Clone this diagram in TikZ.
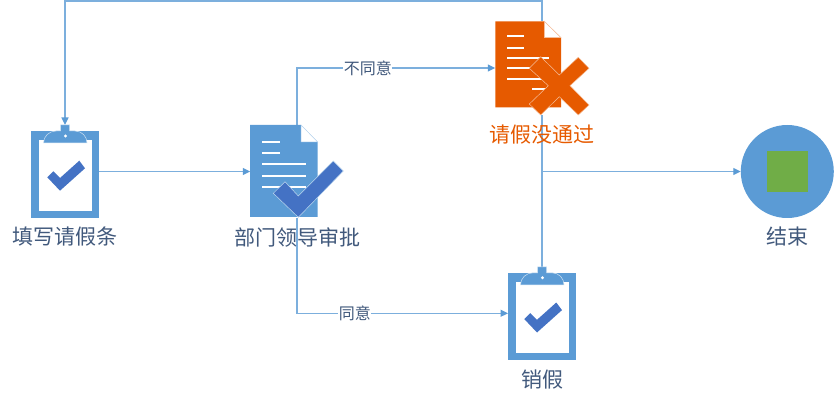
\documentclass[tikz,border=0pt]{standalone}
\usepackage{fontspec}
\setmainfont{Noto Sans CJK SC}
\usetikzlibrary{arrows.meta}
\definecolor{flowblue}{HTML}{5B9BD5}
\definecolor{checkblue}{HTML}{4472C4}
\definecolor{labelgrey}{HTML}{41597C}
\definecolor{alertorange}{HTML}{E65A00}
\definecolor{stopgreen}{HTML}{70AD47}
\tikzset{
  x=1pt,y=-1pt,
  anchorbox/.style={inner sep=0pt,outer sep=0pt,minimum width=#1},
  flow/.style={draw=flowblue!80!white,line width=1.3pt},
  flowarrow/.style={flow,-{Triangle[length=7.5pt,width=7pt,color=flowblue]}},
  iconlabel/.style={font=\fontsize{21}{25}\selectfont,text=labelgrey,inner sep=0pt},
  edgelabel/.style={font=\fontsize{16}{18}\selectfont,text=labelgrey,fill=white,inner sep=0.5pt},
  clipboard/.pic={
    \fill[flowblue] (-34,-40.5) rectangle (34,46.5);
    \fill[white] (-26,-31.5) rectangle (27,39.5);
    \draw[fill=flowblue,draw=white!70!flowblue,line width=0.5pt] (-21.5,-28.5) .. controls (-21.5,-35) and (-16,-40.5) .. (-9,-40.5) -- (-4.5,-40.5) -- (-4.5,-46.5) -- (4.5,-46.5) -- (4.5,-40.5) -- (10,-40.5) .. controls (17,-40.5) and (22,-35) .. (22,-28.5) -- cycle;
    \fill[white] (0.5,-35.5) circle (1.6);
    \fill[checkblue] (-17.7,5.8) -- (-5,19.2) -- (20,-3.2) -- (14.3,-10.8) -- (-5,6.5) -- (-11.7,-0.2) -- cycle;
  }
}
\begin{document}
\begin{tikzpicture}
\useasboundingbox (0,0) rectangle (836,401);
% anchor boxes
\node[anchorbox=68pt,minimum height=93pt] (clipA) at (65,171.5) {};
\node[anchorbox=93.5pt,minimum height=93pt] (docA) at (297,171.5) {};
\node[anchorbox=93.5pt,minimum height=94pt] (docB) at (542,68) {};
\node[anchorbox=68pt,minimum height=93pt] (clipC) at (542,313.3) {};
\node[circle,fill=flowblue,inner sep=0pt,outer sep=0pt,minimum size=93pt] (stopN) at (787.3,171.5) {};
\coordinate (topBend) at (542,1);
\coordinate (branch) at (542,171.5);
% connectors
\draw[flowarrow] (clipA.east) -- (docA.west);
\draw[flowarrow] (docA.north) |- node[edgelabel,pos=0.679] (lNo) {不同意} (docB.west);
\draw[flowarrow] (docA.south) |- node[edgelabel,pos=0.637] (lYes) {同意} (clipC.west);
\draw[flowarrow] (docB.north) -- (topBend) -| (clipA.north);
\draw[flow] (docB.south) -- (clipC.north);
\draw[flowarrow] (branch) -- (stopN.west);
% clipboards
\pic at (clipA.center) {clipboard};
\pic at (clipC.center) {clipboard};
% first document
\fill[flowblue] (250,125) -- (301,125) -- (317.7,142) -- (317.7,217) -- (250,217) -- cycle;
\draw[fill=white,draw=white!60!flowblue,line width=0.5pt] (301,125) -- (317.7,142) -- (301,142) -- cycle;
\foreach \yy/\xe in {142.3/280,153.3/280,164.3/306,176/306,187.3/306}
  \fill[white] (262,\yy-1) rectangle (\xe,\yy+1);
\draw[fill=checkblue,draw=white!60!flowblue,line width=0.5pt] (273.3,193.3) -- (285,181.7) -- (298.3,196) -- (333.3,161) -- (343.3,171) -- (298.3,217.3) -- cycle;
% second document
\fill[alertorange] (495.3,21.3) -- (544.3,21.3) -- (561,37.7) -- (561,107.3) -- (495.3,107.3) -- cycle;
\draw[fill=white,draw=white!60!alertorange,line width=0.5pt] (544.3,21.3) -- (561,37.7) -- (544.3,37.7) -- cycle;
\foreach \yy/\xs/\xe in {36/507.3/524,47.7/507.3/524,57.7/507.3/549,68.3/507.3/549,79/507.3/549,89/532/548}
  \fill[white] (\xs,\yy-1) rectangle (\xe,\yy+1);
\draw[fill=alertorange,draw=white!60!alertorange,line width=0.5pt]
  (529.3,68.3) -- (540.7,56.7) -- (559.3,75) -- (578.3,57.3) -- (589,68.3) -- (570,85.7) -- (589,105) -- (578.3,115) -- (559.3,96.7) -- (540.7,115) -- (529.3,104) -- (548.3,85.7) -- cycle;
% end marker
\fill[stopgreen] (766.7,151) rectangle (808,192.3);
% labels
\node[iconlabel] (tA) at (65,237) {填写请假条};
\node[iconlabel] (tB) at (297,237) {部门领导审批};
\node[iconlabel,text=alertorange] (tC) at (542,135) {请假没通过};
\node[iconlabel] (tD) at (542,380) {销假};
\node[iconlabel] (tE) at (787,237) {结束};
\end{tikzpicture}
\end{document}
